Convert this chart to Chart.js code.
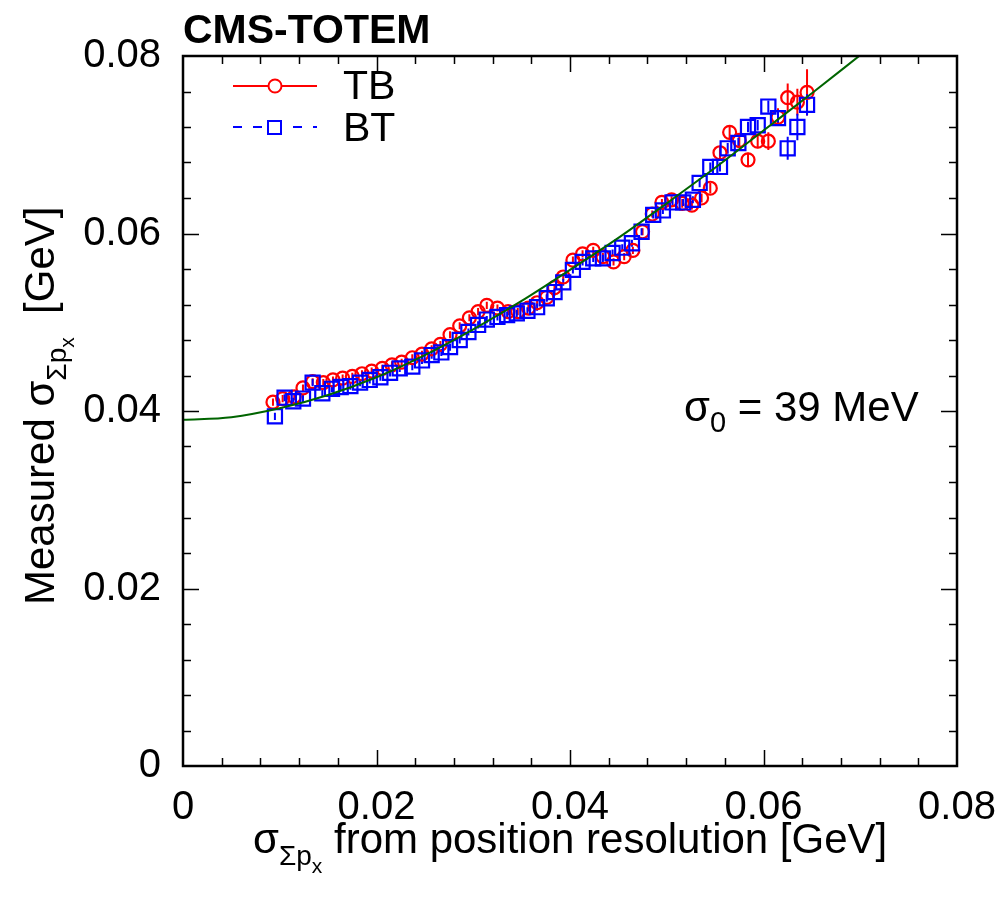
<!DOCTYPE html>
<html>
<head>
<meta charset="utf-8">
<script src="https://cdn.jsdelivr.net/npm/chart.js@4.4.0/dist/chart.umd.min.js"></script>
<style>
  body { margin: 0; background: #fff; }
</style>
</head>
<body>
<canvas id="resChart" width="1006" height="898"></canvas>
<script>
// TB points (red circles)
const tbX = [0.0093,0.0103,0.0115,0.0124,0.0134,0.0145,0.0155,0.0165,0.0175,0.0185,0.0195,0.0206,0.0216,0.0226,0.0237,0.0247,0.0257,0.0266,0.0276,0.0286,0.0296,0.0305,0.0314,0.0325,0.0336,0.0346,0.0357,0.0366,0.0376,0.0384,0.0393,0.0403,0.0413,0.0424,0.0434,0.0445,0.0456,0.0465,0.0475,0.0485,0.0495,0.0505,0.0516,0.0526,0.0536,0.0545,0.0555,0.0565,0.0575,0.0584,0.0594,0.0605,0.0615,0.0625,0.0635,0.0645]
const tbY = [0.0410,0.0414,0.0416,0.0426,0.0433,0.0432,0.0435,0.0437,0.0439,0.0442,0.0445,0.0448,0.0452,0.0455,0.0460,0.0464,0.0470,0.0475,0.0486,0.0496,0.0505,0.0512,0.0519,0.0516,0.0512,0.0512,0.0516,0.0522,0.0528,0.0539,0.0551,0.0570,0.0577,0.0581,0.0574,0.0568,0.0574,0.0581,0.0602,0.0622,0.0635,0.0638,0.0634,0.0632,0.0640,0.0651,0.0691,0.0714,0.0705,0.0683,0.0704,0.0704,0.0731,0.0753,0.0748,0.0759]
const tbErr = [0.0004,0.0004,0.0004,0.0004,0.0004,0.0004,0.0004,0.0004,0.0004,0.0004,0.0004,0.0004,0.0004,0.0004,0.0004,0.0004,0.0004,0.0004,0.0004,0.0004,0.0004,0.0004,0.0004,0.0004,0.0004,0.0004,0.0004,0.0004,0.0004,0.0004,0.0004,0.0004,0.0004,0.0004,0.0004,0.0004,0.0004,0.0004,0.0004,0.0004,0.0004,0.0004,0.0005,0.0005,0.0005,0.0006,0.0008,0.0008,0.0008,0.0008,0.0008,0.0010,0.0010,0.0016,0.0015,0.0026]

// BT points (blue squares)
const btX = [0.0095,0.0105,0.0114,0.0124,0.0134,0.0144,0.0154,0.0163,0.0173,0.0183,0.0193,0.0204,0.0214,0.0224,0.0237,0.0247,0.0257,0.0267,0.0276,0.0286,0.0295,0.0305,0.0314,0.0325,0.0335,0.0345,0.0356,0.0366,0.0376,0.0384,0.0393,0.0403,0.0413,0.0424,0.0434,0.0444,0.0454,0.0464,0.0474,0.0486,0.0496,0.0506,0.0517,0.0527,0.0534,0.0545,0.0555,0.0563,0.0574,0.0584,0.0594,0.0605,0.0615,0.0625,0.0635,0.0645]
const btY = [0.0394,0.0415,0.0411,0.0414,0.0432,0.0420,0.0425,0.0427,0.0428,0.0432,0.0435,0.0438,0.0443,0.0448,0.0450,0.0457,0.0463,0.0466,0.0472,0.0480,0.0489,0.0497,0.0503,0.0506,0.0508,0.0510,0.0513,0.0517,0.0527,0.0534,0.0545,0.0559,0.0568,0.0572,0.0572,0.0578,0.0584,0.0589,0.0602,0.0621,0.0626,0.0635,0.0635,0.0638,0.0657,0.0675,0.0675,0.0696,0.0702,0.0720,0.0722,0.0743,0.0730,0.0696,0.0720,0.0745]
const btErr = [0.0004,0.0004,0.0004,0.0004,0.0004,0.0004,0.0004,0.0004,0.0004,0.0004,0.0004,0.0004,0.0004,0.0004,0.0004,0.0004,0.0004,0.0004,0.0004,0.0004,0.0004,0.0004,0.0004,0.0004,0.0004,0.0004,0.0004,0.0004,0.0004,0.0004,0.0004,0.0004,0.0004,0.0004,0.0004,0.0004,0.0004,0.0004,0.0004,0.0004,0.0004,0.0004,0.0004,0.0004,0.0005,0.0005,0.0005,0.0006,0.0006,0.0006,0.0006,0.0007,0.0007,0.0013,0.0015,0.0012]

// fit curve (green)
const fitX = [0, 0.005, 0.010, 0.015, 0.020, 0.025, 0.030, 0.035, 0.040, 0.045, 0.050, 0.055, 0.060, 0.065, 0.070]
const fitY = [0.0390, 0.0393, 0.0403, 0.0418, 0.0438, 0.0463, 0.0492, 0.0524, 0.0559, 0.0595, 0.0634, 0.0674, 0.0716, 0.0758, 0.0801]

const xTicks = [0, 0.02, 0.04, 0.06, 0.08]
const yTicks = [0, 0.02, 0.04, 0.06, 0.08]

const FONT = '"Liberation Sans", Arial, sans-serif'

function toPoints(xs, ys) {
    return xs.map((v, i) => ({ x: v, y: ys[i] }))
}

function richText(ctx, parts, x, y) {
    parts.forEach(p => {
        ctx.font = (p.bold ? 'bold ' : '') + p.size + 'px ' + FONT
        ctx.fillText(p.t, x, y + (p.dy || 0))
        x += ctx.measureText(p.t).width
    })
}

const overlay = {
    id: 'overlay',
    beforeDatasetsDraw(chart) {
        const { ctx, chartArea, scales: { x, y } } = chart
        ctx.save()
        ctx.beginPath()
        ctx.rect(chartArea.left, chartArea.top, chartArea.right - chartArea.left, chartArea.bottom - chartArea.top)
        ctx.clip()
        ctx.lineWidth = 2
        const bars = [[tbX, tbY, tbErr, '#ff0000'], [btX, btY, btErr, '#0000ff']]
        bars.forEach(([xs, ys, es, col]) => {
            ctx.strokeStyle = col
            ctx.beginPath()
            xs.forEach((v, i) => {
                const px = x.getPixelForValue(v)
                ctx.moveTo(px, y.getPixelForValue(ys[i] - es[i]))
                ctx.lineTo(px, y.getPixelForValue(ys[i] + es[i]))
            })
            ctx.stroke()
        })
        ctx.restore()
    },
    afterDraw(chart) {
        const { ctx, chartArea: a, scales: { x, y } } = chart
        ctx.save()
        ctx.strokeStyle = '#000'
        ctx.fillStyle = '#000'

        // inward ticks on all four sides
        ctx.lineWidth = 1.5
        ctx.beginPath()
        for (let k = 1; k < 20; k++) {
            const v = k * 0.004
            const len = k % 5 === 0 ? 16 : 8
            const px = Math.round(x.getPixelForValue(v)) + 0.5
            ctx.moveTo(px, a.bottom); ctx.lineTo(px, a.bottom - len)
            ctx.moveTo(px, a.top); ctx.lineTo(px, a.top + len)
            const py = Math.round(y.getPixelForValue(v)) + 0.5
            ctx.moveTo(a.left, py); ctx.lineTo(a.left + len, py)
            ctx.moveTo(a.right, py); ctx.lineTo(a.right - len, py)
        }
        ctx.stroke()

        // frame
        ctx.lineWidth = 2.5
        ctx.strokeRect(a.left, a.top, a.right - a.left, a.bottom - a.top)

        // header
        ctx.textBaseline = 'alphabetic'
        ctx.textAlign = 'left'
        richText(ctx, [{ t: 'CMS-TOTEM', size: 41, bold: true }], 183, 43)

        // legend
        ctx.lineWidth = 2
        ctx.strokeStyle = '#ff0000'
        ctx.beginPath(); ctx.moveTo(233, 86); ctx.lineTo(317, 86); ctx.stroke()
        ctx.fillStyle = '#fff'
        ctx.beginPath(); ctx.arc(275, 86, 6.5, 0, Math.PI * 2); ctx.fill(); ctx.stroke()
        ctx.strokeStyle = '#0000ff'
        ctx.setLineDash([9, 11])
        ctx.beginPath(); ctx.moveTo(233, 127); ctx.lineTo(317, 127); ctx.stroke()
        ctx.setLineDash([])
        ctx.fillRect(267, 120, 15, 15)
        ctx.strokeRect(268, 121, 13, 13)
        ctx.fillStyle = '#000'
        richText(ctx, [{ t: 'TB', size: 41 }], 343, 99)
        richText(ctx, [{ t: 'BT', size: 41 }], 343, 141)

        // fit result
        richText(ctx, [{ t: 'σ', size: 42 }, { t: '0', size: 29, dy: 11 }, { t: ' = 39 MeV', size: 42 }], 684, 421)

        // x axis title
        richText(ctx, [
            { t: 'σ', size: 42 }, { t: 'Σp', size: 28, dy: 12 }, { t: 'x', size: 21, dy: 20 },
            { t: ' from position resolution [GeV]', size: 42 }
        ], 253, 853)

        // y axis title
        ctx.translate(54, 605)
        ctx.rotate(-Math.PI / 2)
        richText(ctx, [
            { t: 'Measured σ', size: 42 }, { t: 'Σp', size: 28, dy: 12 }, { t: 'x', size: 21, dy: 20 },
            { t: '  [GeV]', size: 42 }
        ], 0, 0)
        ctx.restore()
    }
}

function fmt(v) {
    return v === 0 ? '0' : v.toFixed(2)
}

const canvas = document.getElementById('resChart')
new Chart(canvas, {
    type: 'scatter',
    data: {
        datasets: [{
            label: 'fit',
            data: toPoints(fitX, fitY),
            showLine: true,
            borderColor: '#006400',
            borderWidth: 2,
            pointRadius: 0,
            cubicInterpolationMode: 'monotone',
            fill: false
        }, {
            label: 'BT',
            data: toPoints(btX, btY),
            pointStyle: 'rect',
            pointRadius: 10,
            borderWidth: 2.2,
            borderColor: '#0000ff',
            backgroundColor: 'transparent'
        }, {
            label: 'TB',
            data: toPoints(tbX, tbY),
            pointStyle: 'circle',
            pointRadius: 6.5,
            borderWidth: 2.2,
            borderColor: '#ff0000',
            backgroundColor: 'transparent'
        }]
    },
    options: {
        responsive: false,
        animation: false,
        layout: { padding: { left: 0, top: 56, right: 49, bottom: 0 } },
        plugins: { legend: { display: false }, tooltip: { enabled: false } },
        scales: {
            x: {
                type: 'linear',
                min: 0, max: 0.08,
                afterFit: s => { s.height = 132; s.paddingLeft = 0; s.paddingRight = 0 },
                afterBuildTicks: s => { s.ticks = xTicks.map(v => ({ value: v })) },
                grid: { display: false, drawTicks: false },
                border: { display: false },
                ticks: { color: '#000', font: { family: FONT, size: 40 }, padding: 18, maxRotation: 0, callback: fmt }
            },
            y: {
                type: 'linear',
                min: 0, max: 0.08,
                afterFit: s => { s.width = 183; s.paddingTop = 0; s.paddingBottom = 0 },
                afterBuildTicks: s => { s.ticks = yTicks.map(v => ({ value: v })) },
                grid: { display: false, drawTicks: false },
                border: { display: false },
                ticks: { color: '#000', font: { family: FONT, size: 40 }, padding: 22, callback: fmt }
            }
        }
    },
    plugins: [overlay]
})
</script>
</body>
</html>
